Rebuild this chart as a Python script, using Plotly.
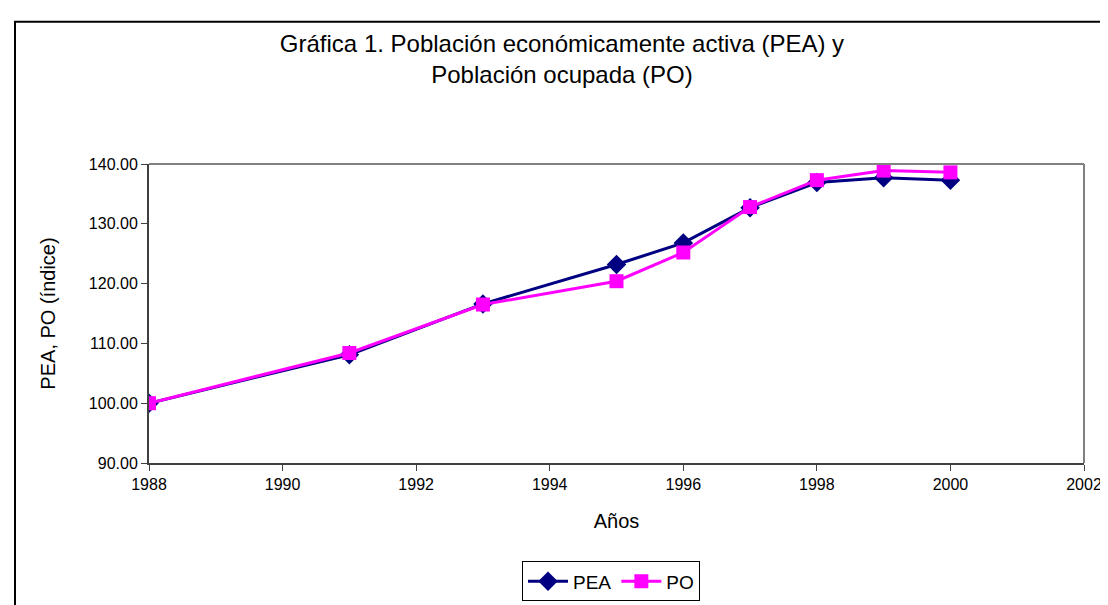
import plotly.graph_objects as go

years = [1988, 1991, 1993, 1995, 1996, 1997, 1998, 1999, 2000]
pea = [100.0, 108.1, 116.6, 123.2, 126.8, 132.7, 136.9, 137.7, 137.3]
po = [100.0, 108.4, 116.5, 120.4, 125.2, 132.8, 137.3, 138.9, 138.6]

W, H = 1108, 605
L, R, T, B = 141, 1076, 156, 463
pw, ph = R - L, B - T

def px(x):
    return (x - L) / pw

def py(y):
    return (B - y) / ph

fig = go.Figure()
fig.add_trace(go.Scatter(
    x=years, y=pea, name="PEA", mode="lines+markers",
    line=dict(color="#000080", width=3),
    marker=dict(symbol="diamond", size=15, color="#000080"),
))
fig.add_trace(go.Scatter(
    x=years, y=po, name="PO", mode="lines+markers",
    line=dict(color="#FF00FF", width=3),
    marker=dict(symbol="square", size=14, color="#FF00FF"),
))

font = "Liberation Sans, Arial, sans-serif"
fig.update_layout(
    width=W, height=H,
    margin=dict(l=L, r=W - R, t=T, b=H - B),
    paper_bgcolor="white", plot_bgcolor="white",
    font=dict(family=font, color="black", size=16),
    title=dict(
        text="Gráfica 1. Población económicamente activa (PEA) y<br>Población ocupada (PO)",
        x=0.5, xref="container", xanchor="center",
        y=1 - 44 / H, yref="container", yanchor="top",
        font=dict(size=24, family=font),
    ),
    xaxis=dict(
        range=[1988, 2002], dtick=2, tick0=1988,
        showgrid=False, zeroline=False,
        showline=True, linecolor="#404040", linewidth=2,
        ticks="outside", ticklen=6, tickcolor="#404040",
        tickfont=dict(size=16),
        title=dict(text="Años", font=dict(size=20), standoff=22),
    ),
    yaxis=dict(
        range=[90, 140], dtick=10, tickformat=".2f",
        showgrid=False, zeroline=False,
        showline=True, linecolor="#404040", linewidth=2,
        ticks="outside", ticklen=6, tickcolor="#404040",
        tickfont=dict(size=16),
        title=dict(text="PEA, PO (índice)", font=dict(size=20), standoff=28),
    ),
    showlegend=True,
    legend=dict(
        orientation="h", x=px(603), xanchor="center",
        y=py(564), yanchor="top",
        bordercolor="black", borderwidth=1,
        font=dict(size=19), bgcolor="white",
        itemwidth=40,
    ),
    shapes=[
        dict(type="line", xref="paper", yref="paper", x0=0, x1=1, y0=1, y1=1,
             line=dict(color="#808080", width=2), layer="above"),
        dict(type="line", xref="paper", yref="paper", x0=1, x1=1, y0=0, y1=1,
             line=dict(color="#808080", width=2), layer="above"),
        dict(type="rect", xref="paper", yref="paper",
             x0=px(7), x1=px(1130), y0=py(10), y1=py(630),
             line=dict(color="black", width=2), layer="below"),
    ],
)

fig.write_html("out.html")
